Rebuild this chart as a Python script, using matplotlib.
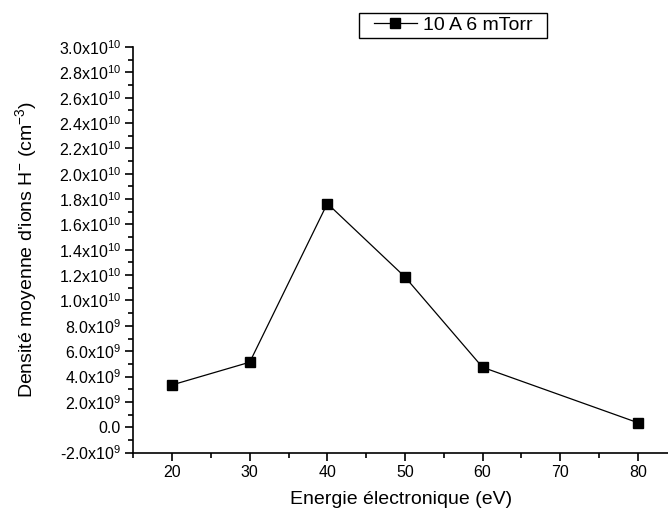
import matplotlib.pyplot as plt
from matplotlib.patches import Rectangle
from matplotlib.ticker import FixedLocator, MultipleLocator, FuncFormatter

plt.rcParams['font.family'] = ['Liberation Sans', 'DejaVu Sans']
plt.rcParams['mathtext.fontset'] = 'custom'
plt.rcParams['mathtext.rm'] = 'Liberation Sans'
plt.rcParams['mathtext.it'] = 'Liberation Sans'

# données
energie = [20, 30, 40, 50, 60, 80]
densite = [3.34e9, 5.13e9, 1.765e10, 1.186e10, 4.73e9, 0.36e9]
serie = '10 A 6 mTorr'

y_ticks = [-2e9, 0, 2e9, 4e9, 6e9, 8e9, 1.0e10, 1.2e10, 1.4e10, 1.6e10,
           1.8e10, 2.0e10, 2.2e10, 2.4e10, 2.6e10, 2.8e10, 3.0e10]
x_ticks = [20, 30, 40, 50, 60, 70, 80]


def fmt_y(v, pos):
    if v == 0:
        return '0.0'
    exp = len(str(int(abs(v)))) - 1
    mant = v / 10 ** exp
    return r'%.1fx10$^{%d}$' % (mant, exp)


W, H = 668, 514
fig = plt.figure(figsize=(W / 100, H / 100), dpi=100)
ax = fig.add_axes([0.1996, 0.1195, 0.8004, 0.7891])

ax.plot(energie, densite, color='black', lw=0.9, marker='s', ms=6.5,
        label=serie)

ax.set_xlim(15, 83.9)
ax.set_ylim(-2e9, 3e10)
ax.xaxis.set_major_locator(FixedLocator(x_ticks))
ax.xaxis.set_minor_locator(MultipleLocator(5))
ax.yaxis.set_major_locator(FixedLocator(y_ticks))
ax.yaxis.set_minor_locator(MultipleLocator(1e9))
ax.yaxis.set_major_formatter(FuncFormatter(fmt_y))

for s in ['top', 'right']:
    ax.spines[s].set_visible(False)
ax.spines['left'].set_linewidth(1.2)
ax.spines['bottom'].set_linewidth(1.2)
ax.tick_params(which='major', direction='out', length=6, width=1.2,
               labelsize=11.5, pad=3)
ax.tick_params(which='minor', direction='out', length=3.5, width=1.2)

ax.set_xlabel('Energie électronique (eV)', fontsize=14, labelpad=8)
ax.set_ylabel("Densité moyenne d'ions H$^{-}$ (cm$^{-3}$)", fontsize=14,
              labelpad=14)

# légende : cadre dessiné à part pour avoir les marges de l'original
fig.patches.append(Rectangle((359 / W, 1 - 38 / H), 188 / W, 25 / H,
                             transform=fig.transFigure, fill=False,
                             edgecolor='black', lw=1.0))
fig.legend(loc='center left', bbox_to_anchor=(374 / W, 1 - 25.5 / H),
           fontsize=14, frameon=False, borderpad=0, handlelength=2.2,
           handletextpad=0.3, borderaxespad=0)

fig.savefig('out.png', dpi=100)
